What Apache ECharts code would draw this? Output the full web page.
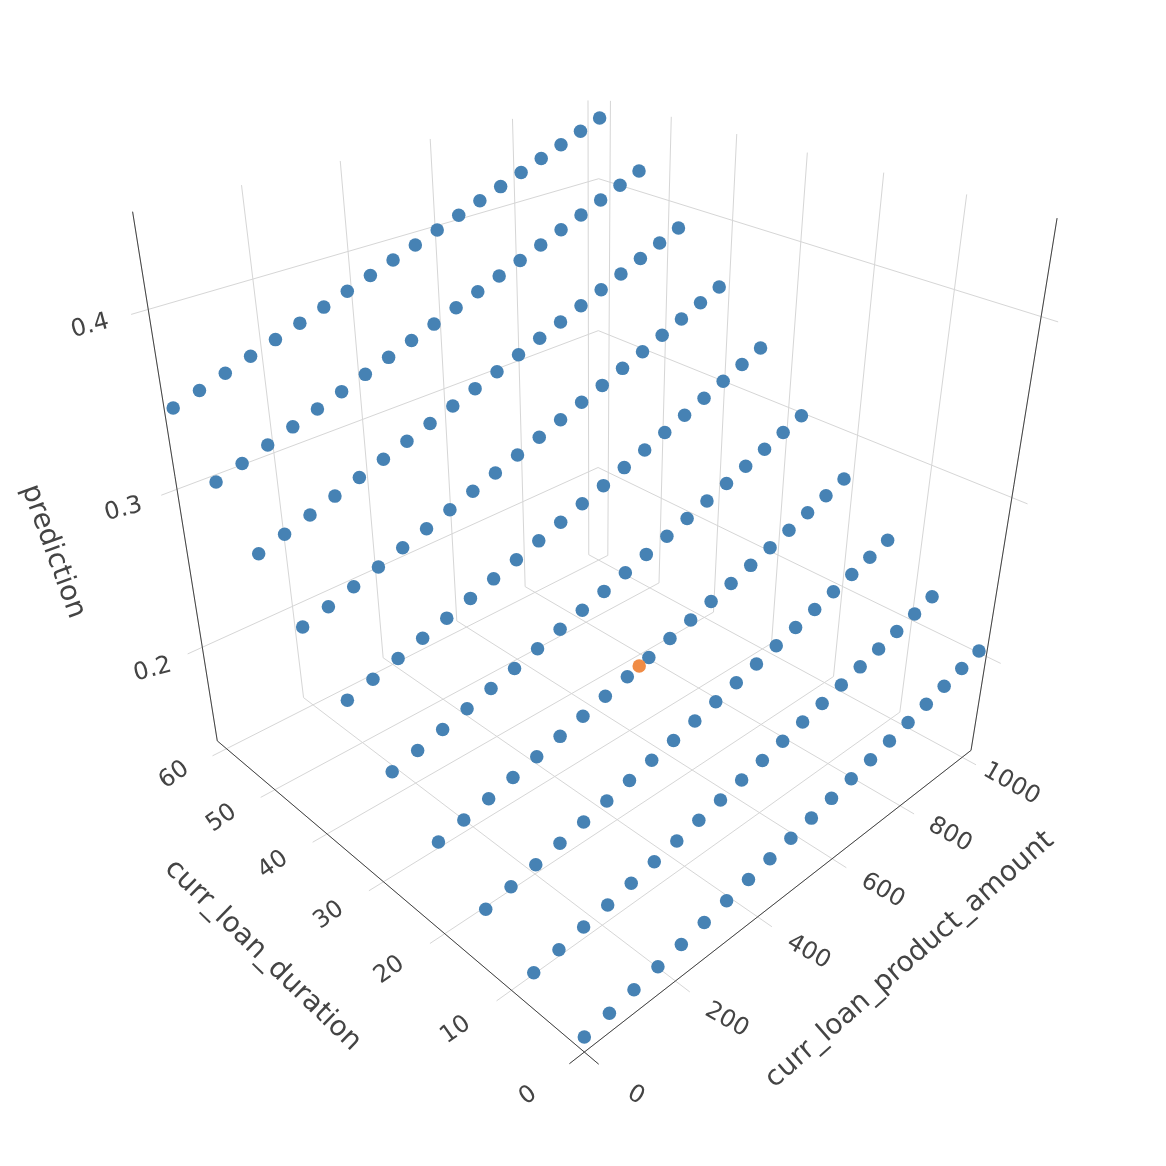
<!DOCTYPE html>
<html>
<head>
<meta charset="utf-8">
<script src="https://cdn.jsdelivr.net/npm/echarts@6/dist/echarts.min.js"></script>
<style>
  html, body { margin: 0; background: #fff; }
  #chart { width: 1166px; height: 1166px; }
</style>
</head>
<body>
<div id="chart"></div>
<script>
// grid of the model inputs
const amounts = [0, 52.6, 105.3, 157.9, 210.5, 263.2, 315.8, 368.4, 421.1, 473.7,
  526.3, 578.9, 631.6, 684.2, 736.8, 789.5, 842.1, 894.7, 947.4, 1000];
const durations = [0, 6.7, 13.3, 20, 26.7, 33.3, 40, 46.7, 53.3, 60];

// predictions, one list per duration (along amounts)
const pred_d00 = [0.1441, 0.1470, 0.1500, 0.1530, 0.1560, 0.1591, 0.1623, 0.1655, 0.1687, 0.1720, 0.1754, 0.1788, 0.1823, 0.1858, 0.1893, 0.1929, 0.1966, 0.2003, 0.2041, 0.2079];
const pred_d07 = [0.1585, 0.1617, 0.1649, 0.1681, 0.1714, 0.1748, 0.1782, 0.1817, 0.1852, 0.1888, 0.1924, 0.1961, 0.1999, 0.2036, 0.2075, 0.2114, 0.2153, 0.2193, 0.2234, 0.2275];
const pred_d13 = [0.1744, 0.1779, 0.1814, 0.1850, 0.1886, 0.1923, 0.1961, 0.1999, 0.2037, 0.2076, 0.2116, 0.2156, 0.2197, 0.2238, 0.2280, 0.2323, 0.2366, 0.2409, 0.2453, 0.2498];
const pred_d20 = [0.1936, 0.1975, 0.2013, 0.2052, 0.2092, 0.2132, 0.2173, 0.2215, 0.2257, 0.2300, 0.2343, 0.2386, 0.2431, 0.2475, 0.2521, 0.2567, 0.2613, 0.2661, 0.2708, 0.2756];
const pred_d27 = [0.2160, 0.2201, 0.2243, 0.2285, 0.2328, 0.2371, 0.2415, 0.2460, 0.2505, 0.2550, 0.2596, 0.2643, 0.2690, 0.2737, 0.2785, 0.2834, 0.2883, 0.2933, 0.2983, 0.3034];
const pred_d33 = [0.2406, 0.2451, 0.2496, 0.2542, 0.2589, 0.2636, 0.2684, 0.2732, 0.2780, 0.2829, 0.2879, 0.2929, 0.2980, 0.3031, 0.3082, 0.3134, 0.3187, 0.3240, 0.3294, 0.3348];
const pred_d40 = [0.2668, 0.2714, 0.2761, 0.2809, 0.2856, 0.2904, 0.2953, 0.3002, 0.3052, 0.3101, 0.3152, 0.3202, 0.3254, 0.3305, 0.3358, 0.3410, 0.3463, 0.3517, 0.3571, 0.3625];
const pred_d47 = [0.2939, 0.2986, 0.3034, 0.3082, 0.3130, 0.3178, 0.3227, 0.3276, 0.3326, 0.3376, 0.3426, 0.3477, 0.3528, 0.3579, 0.3631, 0.3683, 0.3736, 0.3788, 0.3842, 0.3895];
const pred_d53 = [0.3212, 0.3259, 0.3307, 0.3355, 0.3403, 0.3451, 0.3500, 0.3549, 0.3599, 0.3648, 0.3698, 0.3748, 0.3799, 0.3849, 0.3900, 0.3952, 0.4003, 0.4055, 0.4108, 0.4160];
const pred_d60 = [0.3503, 0.3549, 0.3595, 0.3641, 0.3687, 0.3734, 0.3780, 0.3827, 0.3875, 0.3922, 0.3969, 0.4017, 0.4065, 0.4113, 0.4161, 0.4210, 0.4259, 0.4308, 0.4357, 0.4406];
const predRows = [pred_d00, pred_d07, pred_d13, pred_d20, pred_d27, pred_d33, pred_d40, pred_d47, pred_d53, pred_d60];

// the one highlighted applicant: amount, duration, prediction
const applicant = [450, 20, 0.2281];

// axis ranges and ticks
const amountRange = [0, 1030];
const durationRange = [0, 62];
const predRange = [0.1344, 0.4491];
const amountTicks = [0, 200, 400, 600, 800, 1000];
const durationTicks = [0, 10, 20, 30, 40, 50, 60];
const predTicks = [0.2, 0.3, 0.4];

// camera looking at the unit box from the front corner (amount 0, duration 0)
const cam = {
  px: 590, py: 518, f: 1476.1, hz: 1.027,
  center: [0.0089, -0.0366, 5.0271],
  ex: [0.7202, -0.3462, 0.6012],
  ey: [-0.6938, -0.3606, 0.6233],
  ez: [-0.0010, -0.8672, -0.4980]
};

const norm = (v, r) => -1 + 2 * (v - r[0]) / (r[1] - r[0]);

function project(X, Y, Z) {
  const c = [0, 1, 2].map(k =>
    cam.center[k] + X * cam.ex[k] + Y * cam.ey[k] + Z * cam.hz * cam.ez[k]);
  return [cam.px + cam.f * c[0] / c[2], cam.py + cam.f * c[1] / c[2], c[2]];
}

const toBox = (a, d, p) => project(norm(a, amountRange), norm(d, durationRange), norm(p, predRange));

// dots, far ones first
const dots = [];
durations.forEach((d, j) => {
  amounts.forEach((a, i) => dots.push(toBox(a, d, predRows[j][i])));
});
dots.sort((p, q) => q[2] - p[2]);
const applicantDot = toBox(applicant[0], applicant[1], applicant[2]);

// grid and axis lines
const tick = 0.06;
const gridSegs = [];
const axisSegs = [];
function seg(list, a, b) {
  const p = project(a[0], a[1], a[2]);
  const q = project(b[0], b[1], b[2]);
  list.push([p[0], p[1], q[0], q[1]]);
}
amountTicks.forEach(a => {
  const X = norm(a, amountRange);
  seg(gridSegs, [X, -1 - tick, -1], [X, 1, -1]);
  seg(gridSegs, [X, 1, -1], [X, 1, 1]);
});
durationTicks.forEach(d => {
  const Y = norm(d, durationRange);
  seg(gridSegs, [-1 - tick, Y, -1], [1, Y, -1]);
  seg(gridSegs, [1, Y, -1], [1, Y, 1]);
});
predTicks.forEach(p => {
  const Z = norm(p, predRange);
  seg(gridSegs, [-1 - tick, 1, Z], [1, 1, Z]);
  seg(gridSegs, [1, -1 - tick, Z], [1, 1, Z]);
});
seg(axisSegs, [-1, -1 - tick, -1], [-1, 1, -1]);
seg(axisSegs, [-1 - tick, -1, -1], [1, -1, -1]);
seg(axisSegs, [-1, 1, -1], [-1, 1, 1]);
seg(axisSegs, [1, -1, -1], [1, -1, 1]);

// labels
const labels = [];
function label(at, text, rot, size) {
  const p = project(at[0], at[1], at[2]);
  labels.push({ x: p[0], y: p[1], text, rot, size });
}
amountTicks.forEach(a => label([norm(a, amountRange), -1.21, -1], String(a), -0.52, 24));
durationTicks.forEach(d => label([-1.22, norm(d, durationRange), -1], String(d), 0.61, 24));
predTicks.forEach(p => label([-1.2, 1, norm(p, predRange)], p.toFixed(1), 0.26, 24));
label([-0.02, -1.45, -1], 'curr_loan_product_amount', 0.72, 28);
label([-1.47, -0.03, -1], 'curr_loan_duration', -0.77, 28);
label([-1.46, 1, 0], 'prediction', -1.22, 28);

const lineSeries = (data, color, z) => ({
  type: 'custom',
  data,
  z,
  silent: true,
  renderItem: (params, api) => {
    const a = api.coord([api.value(0), api.value(1)]);
    const b = api.coord([api.value(2), api.value(3)]);
    return {
      type: 'line',
      shape: { x1: a[0], y1: a[1], x2: b[0], y2: b[1] },
      style: { stroke: color, lineWidth: 1 }
    };
  }
});

const chart = echarts.init(document.getElementById('chart'));
chart.setOption({
  animation: false,
  backgroundColor: '#fff',
  grid: { left: 0, right: 0, top: 0, bottom: 0 },
  xAxis: { type: 'value', min: 0, max: 1166, show: false },
  yAxis: { type: 'value', min: 0, max: 1166, inverse: true, show: false },
  series: [
    lineSeries(gridSegs, '#d6d6d6', 1),
    lineSeries(axisSegs, '#444', 2),
    {
      type: 'scatter',
      z: 3,
      silent: true,
      symbolSize: 13.5,
      itemStyle: { color: '#4682b4', opacity: 1 },
      data: dots.map(p => [p[0], p[1]])
    },
    {
      type: 'scatter',
      z: 4,
      silent: true,
      symbolSize: 13.5,
      itemStyle: { color: '#f08c46', opacity: 1 },
      data: [[applicantDot[0], applicantDot[1]]]
    },
    {
      type: 'custom',
      z: 5,
      silent: true,
      data: labels.map(l => [l.x, l.y]),
      renderItem: (params, api) => {
        const l = labels[params.dataIndex];
        const p = api.coord([api.value(0), api.value(1)]);
        return {
          type: 'text',
          x: p[0],
          y: p[1],
          rotation: l.rot,
          style: {
            text: l.text,
            fill: '#444',
            fontSize: l.size,
            fontFamily: 'DejaVu Sans',
            align: 'center',
            verticalAlign: 'middle'
          }
        };
      }
    }
  ]
});
</script>
</body>
</html>
